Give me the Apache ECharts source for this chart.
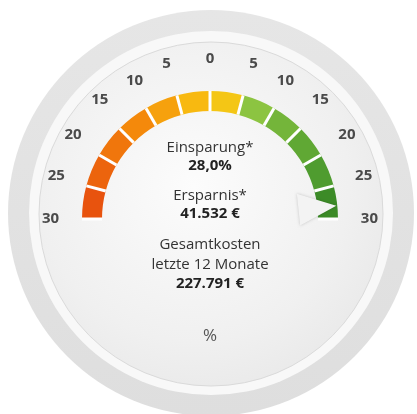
<!DOCTYPE html>
<html lang="de">
<head>
<meta charset="UTF-8">
<title>gauge</title>
<style>
  html, body { margin: 0; padding: 0; background: #fff; }
  #main { width: 417px; height: 414px; }
</style>
</head>
<body>
<div id="main"></div>
<script src="https://cdn.jsdelivr.net/npm/echarts@6/dist/echarts.min.js"></script>
<script>
// scale from 30 (left) over 0 to 30 (right), 12 segments of 5
const scaleMin = -30;
const scaleMax = 30;
const segmentColors = [
  '#e8530e', '#ec640d', '#f0760c', '#f4890b', '#f6a10d', '#f8b910',
  '#f4c615', '#8cc441', '#74b53a', '#60a834', '#4f9c2f', '#3c8b27'
];
const einsparung = 28.0;     // pointer value, %
const ersparnis = 41532;     // €
const gesamtkosten = 227791; // € (letzte 12 Monate)
const unitLabel = '%';

const font = '"Open Sans", sans-serif';

function tausender(n) {
  return String(n).replace(/\B(?=(\d{3})+(?!\d))/g, '.');
}

const chart = echarts.init(document.getElementById('main'));

const axisColors = segmentColors.map((c, i) => [(i + 1) / segmentColors.length, c]);

const option = {
  backgroundColor: '#fff',
  animation: false,
  graphic: [
    {
      type: 'circle', z: 0,
      shape: { cx: 211, cy: 213, r: 203 },
      style: {
        fill: new echarts.graphic.LinearGradient(0, 0, 0, 1, [
          { offset: 0, color: '#e6e6e6' },
          { offset: 1, color: '#dedede' }
        ])
      }
    },
    {
      type: 'circle', z: 1,
      shape: { cx: 211, cy: 213, r: 182 },
      style: { fill: '#f8f8f8' }
    },
    {
      type: 'circle', z: 1,
      shape: { cx: 211, cy: 214, r: 172 },
      style: {
        fill: new echarts.graphic.RadialGradient(0.45, 0.42, 0.75, [
          { offset: 0, color: '#fcfcfc' },
          { offset: 0.6, color: '#f0f0f0' },
          { offset: 1, color: '#e4e4e4' }
        ]),
        stroke: '#dadada',
        lineWidth: 1
      }
    }
  ],
  series: [
    {
      type: 'gauge',
      center: [210, 219],
      radius: 128,
      startAngle: 180,
      endAngle: 0,
      min: scaleMin,
      max: scaleMax,
      splitNumber: 12,
      axisLine: {
        lineStyle: { width: 20, color: axisColors }
      },
      axisTick: { show: false },
      splitLine: {
        length: 20,
        distance: -20,
        lineStyle: { color: '#ffffff', width: 3 }
      },
      axisLabel: {
        distance: -40,
        align: 'center',
        verticalAlign: 'middle',
        color: '#4a4a4a',
        fontSize: 15,
        fontWeight: 'bold',
        fontFamily: font,
        formatter: v => String(Math.abs(Math.round(v)))
      },
      progress: { show: false },
      anchor: { show: false },
      pointer: {
        icon: 'triangle',
        length: 38,
        width: 32,
        offsetCenter: [0, -89],
        itemStyle: {
          color: '#f3f3f3',
          shadowBlur: 3,
          shadowColor: 'rgba(0,0,0,0.2)'
        }
      },
      title: {
        offsetCenter: [0, 117],
        color: '#555',
        fontSize: 17,
        fontFamily: font
      },
      detail: {
        offsetCenter: [0, -3],
        fontFamily: font,
        color: '#333',
        formatter: function (v) {
          return [
            '{t|Einsparung*}',
            '{b|' + v.toFixed(1).replace('.', ',') + '%}',
            '{g| }',
            '{t|Ersparnis*}',
            '{b|' + tausender(ersparnis) + ' €}',
            '{g| }',
            '{t2|Gesamtkosten}',
            '{t2|letzte 12 Monate}',
            '{b|' + tausender(gesamtkosten) + ' €}'
          ].join('\n');
        },
        rich: {
          t: { fontSize: 15, lineHeight: 18, fontWeight: 'normal', color: '#333', fontFamily: font },
          t2: { fontSize: 15, lineHeight: 20, fontWeight: 'normal', color: '#333', fontFamily: font },
          b: { fontSize: 15, lineHeight: 18, fontWeight: 'bold', color: '#222', fontFamily: font },
          g: { fontSize: 8, lineHeight: 12 }
        }
      },
      data: [{ value: einsparung, name: unitLabel }]
    }
  ]
};

chart.setOption(option);
</script>
</body>
</html>
